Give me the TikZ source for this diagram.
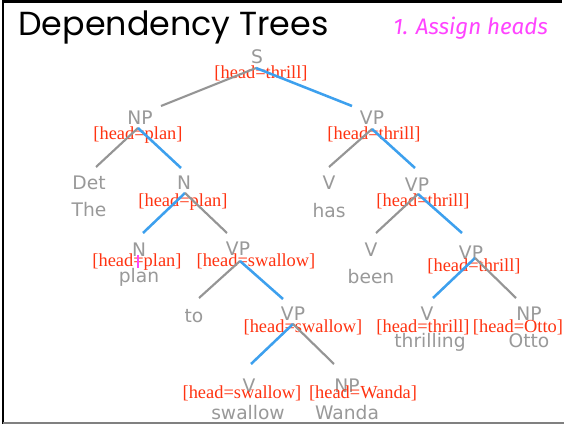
\documentclass[tikz,border=0pt]{standalone}
\usepackage{fontspec}
\setmainfont{Liberation Serif}
\newfontfamily\graysf{DejaVu Sans}
\newfontfamily\titlef{Poppins}
\newfontfamily\notef{Fira Sans}
\definecolor{labgray}{HTML}{999999}
\definecolor{linegray}{HTML}{959595}
\definecolor{lineblue}{HTML}{3DA0EE}
\definecolor{headred}{HTML}{FF3311}
\definecolor{notemag}{HTML}{FF44FF}
\begin{document}
\begin{tikzpicture}[x=0.75pt,y=-0.75pt,
  cat/.style={text=labgray, font=\graysf\fontsize{14}{16}\selectfont, inner sep=0pt, anchor=base},
  head/.style={text=headred, font=\rmfamily\fontsize{13.8}{15}\selectfont, inner sep=0pt, anchor=base},
  gline/.style={draw=linegray, line width=1.6pt},
  bline/.style={draw=lineblue, line width=1.9pt},
  frame/.style={draw=black, line width=2pt}]
\useasboundingbox (0,0) rectangle (564,424);
\fill[white] (0,0) rectangle (564,424);
% frame
\draw[frame] (3,424) -- (3,1.5) -- (562,1.5);
\draw[draw=gray, line width=1.5pt] (3,423) -- (564,423);
% title and note
\node[anchor=base west, inner sep=0pt, font=\titlef\fontsize{25}{28}\selectfont] (title) at (18,36) {Dependency Trees};
\node[anchor=base west, inner sep=0pt, text=notemag, font=\notef\itshape\fontsize{16.8}{19}\selectfont] (note) at (393,35) {1. Assign heads};
% category and word labels
\node[cat] (s) at (257,64) {S};
\node[cat] (np1) at (140,125) {NP};
\node[cat] (vp1) at (372,125) {VP};
\node[cat] (det) at (89,190) {Det};
\node[cat] (the) at (89,217) {The};
\node[cat] (n1) at (184,190) {N};
\node[cat] (v1) at (329,190) {V};
\node[cat] (has) at (329,218) {has};
\node[cat] (vp2) at (417,192) {VP};
\node[cat] (n2) at (139,256) {N};
\node[cat] (plan) at (139,282) {plan};
\node[cat] (vp3) at (238,255) {VP};
\node[cat] (v2) at (371,257) {V};
\node[cat] (been) at (371,283) {been};
\node[cat] (vp4) at (471,259) {VP};
\node[cat] (to) at (194,322) {to};
\node[cat] (vp5) at (293,320) {VP};
\node[cat] (v3) at (427,320) {V};
\node[cat] (thrilling) at (430,347) {thrilling};
\node[cat] (np2) at (529,320) {NP};
\node[cat] (otto) at (529,347) {Otto};
\node[cat] (v4) at (249,392) {V};
\node[cat] (swallow) at (248,419) {swallow};
\node[cat] (np3) at (347,392) {NP};
\node[cat] (wanda) at (347,419) {Wanda};
% head annotations
\node[head] (hs) at (261,79) {[head=thrill]};
\node[head] (hnp1) at (138,140) {[head=plan]};
\node[head] (hvp1) at (374,140) {[head=thrill]};
\node[head] (hn1) at (183,206) {[head=plan]};
\node[head] (hvp2) at (423,206) {[head=thrill]};
\node[head] (hn2) at (137,267) {[head=plan]};
\node[head] (hvp3) at (256,267) {[head=swallow]};
\node[head] (hvp4) at (474,271) {[head=thrill]};
\node[head] (hvp5) at (303,332) {[head=swallow]};
\node[head] (hv3) at (423,332) {[head=thrill]};
\node[head] (hnp2) at (518,332) {[head=Otto]};
\node[head] (hv4) at (242,398) {[head=swallow]};
\node[head] (hnp3) at (363,398) {[head=Wanda]};
% magenta cursor mark
\draw[notemag, line width=1.5pt] (138,255) -- (138,268);
% branch points
\coordinate (s-a) at (256,68);
\coordinate (s-l) at (161,106);
\coordinate (s-r) at (352,106);
\coordinate (np1-a) at (138,128);
\coordinate (np1-l) at (96,167);
\coordinate (np1-r) at (181,168);
\coordinate (vp1-a) at (372,129);
\coordinate (vp1-l) at (329,167);
\coordinate (vp1-r) at (415,168);
\coordinate (n1-a) at (185,193);
\coordinate (n1-l) at (143,233);
\coordinate (n1-r) at (227,233);
\coordinate (vp2-a) at (418,194);
\coordinate (vp2-l) at (376,233);
\coordinate (vp2-r) at (462,233);
\coordinate (vp3-a) at (240,261);
\coordinate (vp3-l) at (199,298);
\coordinate (vp3-r) at (283,299);
\coordinate (vp4-a) at (475,258);
\coordinate (vp4-l) at (433,298);
\coordinate (vp4-r) at (516,298);
\coordinate (vp5-a) at (293,324);
\coordinate (vp5-l) at (251,364);
\coordinate (vp5-r) at (334,364);
% branches
\draw[gline] (s-a) -- (s-l);
\draw[bline] (s-a) -- (s-r);
\draw[gline] (np1-a) -- (np1-l);
\draw[bline] (np1-a) -- (np1-r);
\draw[gline] (vp1-a) -- (vp1-l);
\draw[bline] (vp1-a) -- (vp1-r);
\draw[bline] (n1-a) -- (n1-l);
\draw[gline] (n1-a) -- (n1-r);
\draw[gline] (vp2-a) -- (vp2-l);
\draw[bline] (vp2-a) -- (vp2-r);
\draw[gline] (vp3-a) -- (vp3-l);
\draw[bline] (vp3-a) -- (vp3-r);
\draw[bline] (vp4-a) -- (vp4-l);
\draw[gline] (vp4-a) -- (vp4-r);
\draw[bline] (vp5-a) -- (vp5-l);
\draw[gline] (vp5-a) -- (vp5-r);
\end{tikzpicture}
\end{document}
